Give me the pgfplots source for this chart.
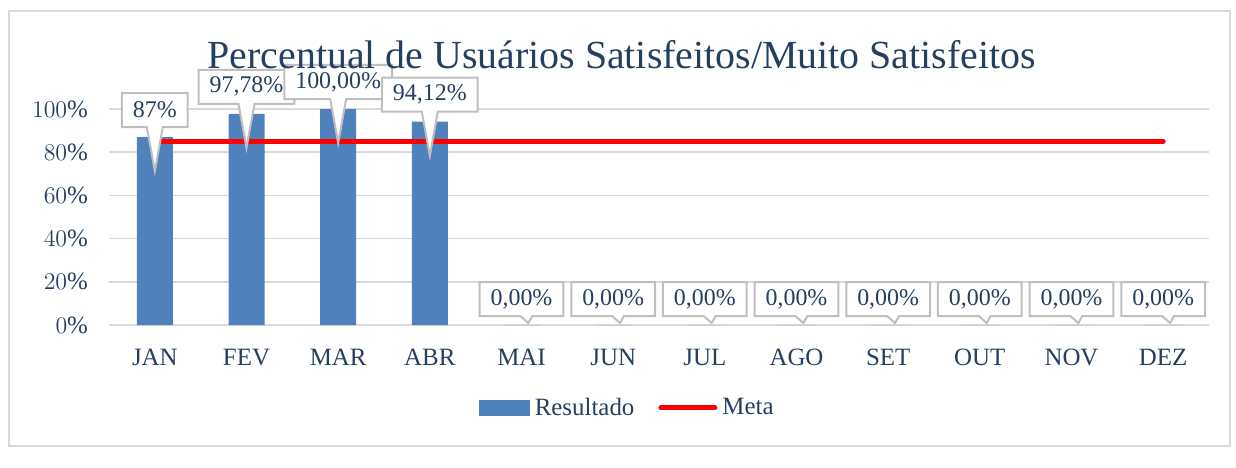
\documentclass[border=0pt]{standalone}
\usepackage{fontspec}
\setmainfont{Liberation Serif}
\usepackage{pgfplots}
\pgfplotsset{compat=1.18}
\usetikzlibrary{shapes.callouts}
\definecolor{barblue}{HTML}{4F81BD}
\definecolor{txtblue}{HTML}{243F60}
\definecolor{gridgray}{HTML}{D9D9D9}
\definecolor{boxgray}{HTML}{BFBFBF}

\tikzset{
  callbox/.style={rectangle callout, draw=boxgray, line width=1bp, fill=white,
    text=txtblue, font=\fontsize{12}{14}\selectfont, inner xsep=5.5bp, inner ysep=2bp,
    minimum height=17bp, anchor=center, callout pointer width=8bp},
}

\begin{document}
\begin{tikzpicture}
% canvas and outer frame (axis origin = lower left of plot area)
\path (-54.5bp,-71.5bp) rectangle (563.5bp,162.5bp);
\draw[gridgray, line width=1bp] (-50bp,-60.5bp) rectangle (560.5bp,157bp);
\begin{axis}[
    at={(0,0)}, anchor=south west,
    scale only axis,
    width=550bp, height=108bp,
    xmin=-0.5, xmax=11.5,
    ymin=0, ymax=100,
    xtick={0,...,11},
    xticklabels={JAN,FEV,MAR,ABR,MAI,JUN,JUL,AGO,SET,OUT,NOV,DEZ},
    ytick={0,20,...,100},
    yticklabel={\pgfmathprintnumber{\tick}\%},
    ymajorgrids,
    grid style={draw=gridgray, line width=0.8bp},
    axis line style={draw=none},
    major tick length=0pt,
    tick label style={font=\fontsize{12.5}{14}\selectfont, text=txtblue},
    xticklabel style={yshift=-8.5bp},
    yticklabel style={xshift=-7bp},
    clip=false,
    title={Percentual de Usuários Satisfeitos/Muito Satisfeitos},
    title style={at={(0.466,1.195)}, anchor=center, font=\fontsize{20}{23}\selectfont, text=txtblue},
    legend style={at={(0.472,-0.384)}, anchor=center, draw=none, fill=none,
      font=\fontsize{12.5}{14}\selectfont, text=txtblue, legend columns=2,
      /tikz/every odd column/.append style={column sep=0.5bp},
      /tikz/every even column/.append style={column sep=10bp},
      inner sep=0pt, row sep=0pt},
    legend cell align=left,
]
\addplot[ybar, bar width=18bp, fill=barblue, draw=none,
  legend image code/.code={\fill[barblue] (0bp,-4bp) rectangle (25.5bp,4bp);}]
  coordinates {(0,87) (1,97.78) (2,100) (3,94.12) (4,0) (5,0) (6,0) (7,0) (8,0) (9,0) (10,0) (11,0)};
\addlegendentry{Resultado}
\addplot[red, line width=2.5bp, line cap=round,
  legend image code/.code={\draw[red, line width=2.5bp, line cap=round] (0bp,0bp) -- (27bp,0bp);}]
  coordinates {(0,85) (11,85)};
\addlegendentry{Meta}
% data callouts (pointer length is measured from the box edge)
\addplot[draw=none, mark=none, forget plot, point meta=explicit symbolic,
  nodes near coords,
  nodes near coords style={callbox, yshift=13.5bp,
    callout relative pointer={(canvas cs:x=0bp,y=-22bp)}}]
  coordinates {(0,87) [87\%] (1,97.78) [97,78\%] (2,100) [100,00\%] (3,94.12) [94,12\%]};
\addplot[draw=none, mark=none, forget plot, point meta=explicit symbolic,
  nodes near coords,
  nodes near coords style={callbox, yshift=13bp,
    callout relative pointer={(canvas cs:x=1bp,y=-3.5bp)}, callout pointer width=6bp}]
  coordinates {(4,0) [0,00\%] (5,0) [0,00\%] (6,0) [0,00\%] (7,0) [0,00\%] (8,0) [0,00\%] (9,0) [0,00\%] (10,0) [0,00\%] (11,0) [0,00\%]};
\end{axis}
\end{tikzpicture}
\end{document}
